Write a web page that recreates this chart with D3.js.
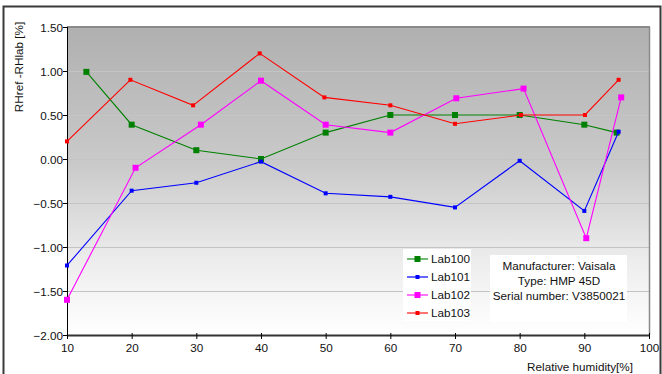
<!DOCTYPE html>
<html><head><meta charset="utf-8">
<script src="https://cdn.jsdelivr.net/npm/d3@7"></script>
<style>body{margin:0;background:#fff}svg{display:block;font-family:"Liberation Sans",Arial,sans-serif}</style>
</head><body><svg id="c" width="662" height="374"></svg>
<script>
const seriesNames = ["Lab100","Lab101","Lab102","Lab103"];
const lab100X = [13,20,30,40,50,60,70,80,90,95];
const lab100Y = [0.99,0.39,0.10,0.00,0.30,0.50,0.50,0.50,0.39,0.30];
const lab101X = [10,20,30,40,50,60,70,80,90,95.3];
const lab101Y = [-1.21,-0.36,-0.27,-0.03,-0.39,-0.43,-0.55,-0.02,-0.59,0.31];
const lab102X = [10,20.6,30.7,40,50,60,70.2,80.6,90.3,95.7];
const lab102Y = [-1.60,-0.10,0.39,0.89,0.39,0.30,0.69,0.80,-0.90,0.70];
const lab103X = [10,19.8,29.5,39.8,49.8,60,70,80.2,90.1,95.3];
const lab103Y = [0.20,0.90,0.61,1.20,0.70,0.61,0.40,0.50,0.50,0.90];
const xTicks = [10,20,30,40,50,60,70,80,90,100];
const yTicks = [1.5,1.0,0.5,0,-0.5,-1.0,-1.5,-2.0];
const infoLines = ["Manufacturer: Vaisala","Type: HMP 45D","Serial number: V3850021"];
const colors = ["#008000","#0000ff","#ff00ff","#ff0000"];
const markerSize = [6,4,6,4];
const FS = 11.7;

const svg = d3.select("#c");
const L=67,T=27,R=649,B=335;
const x = d3.scaleLinear().domain([10,100]).range([L,R]);
const y = d3.scaleLinear().domain([-2,1.5]).range([B,T]);

// outer frame
svg.append("rect").attr("x",3.5).attr("y",6.5).attr("width",657).attr("height",380)
  .attr("fill","#fff").attr("stroke","#3a3a3a").attr("stroke-width",2);

const defs = svg.append("defs");
const g = defs.append("linearGradient").attr("id","bg").attr("x1",0).attr("y1",0).attr("x2",0).attr("y2",1);
[[0,"#b0b0b0"],[0.45,"#cacaca"],[0.75,"#ececec"],[1,"#ffffff"]].forEach(s=>g.append("stop").attr("offset",s[0]).attr("stop-color",s[1]));
svg.append("rect").attr("x",L).attr("y",T).attr("width",R-L).attr("height",B-T).attr("fill","url(#bg)");

// gridlines
svg.append("g").selectAll("line").data(yTicks.filter(v=>v>-2&&v<1.5)).join("line")
  .attr("x1",L).attr("x2",R).attr("y1",d=>Math.round(y(d))+0.5).attr("y2",d=>Math.round(y(d))+0.5)
  .attr("stroke","#c4c4c4").attr("stroke-width",1);

// plot top / right border
svg.append("line").attr("x1",L).attr("x2",R+1).attr("y1",T).attr("y2",T).attr("stroke","#8a8a8a").attr("stroke-width",2);
svg.append("line").attr("x1",R+0.5).attr("x2",R+0.5).attr("y1",T).attr("y2",B).attr("stroke","#8a8a8a").attr("stroke-width",1.5);

// axes
const yAxis = svg.append("g").attr("transform",`translate(${L},0)`)
  .call(d3.axisLeft(y).tickValues(yTicks).tickFormat(d3.format(".2f")).tickSize(4).tickPadding(3));
const xAxis = svg.append("g").attr("transform",`translate(0,${B})`)
  .call(d3.axisBottom(x).tickValues(xTicks).tickFormat(d3.format("d")).tickSize(4).tickPadding(5));
[yAxis,xAxis].forEach(a=>{a.selectAll("text").attr("font-size",FS).attr("fill","#111").attr("font-family","Liberation Sans, Arial, sans-serif");
  a.selectAll("line").attr("stroke","#000");});
yAxis.select(".domain").attr("stroke","#000").attr("d",`M0.5,${T}V${B}`);
xAxis.select(".domain").attr("stroke","#333").attr("stroke-width",2).attr("d",`M${L},0.5H${R}`);
xAxis.selectAll(".tick line").attr("y1",-2);
yAxis.selectAll("text").attr("dy","0.35em").attr("x",-4);

// series
const all = [[lab100X,lab100Y],[lab101X,lab101Y],[lab102X,lab102Y],[lab103X,lab103Y]];
const line = d3.line().x(d=>x(d[0])).y(d=>y(d[1]));
all.forEach((s,i)=>{
  const pts = s[0].map((v,j)=>[v,s[1][j]]);
  svg.append("path").datum(pts).attr("d",line).attr("fill","none").attr("stroke",colors[i]).attr("stroke-width",1.1);
  const m = markerSize[i];
  svg.append("g").selectAll("rect").data(pts).join("rect")
    .attr("x",d=>x(d[0])-m/2).attr("y",d=>y(d[1])-m/2).attr("width",m).attr("height",m).attr("fill",colors[i]);
});

// legend
const lg = svg.append("g");
lg.append("rect").attr("x",403).attr("y",249).attr("width",68).attr("height",72).attr("fill","#fff");
seriesNames.forEach((n,i)=>{
  const yy = 259+i*18;
  lg.append("line").attr("x1",407).attr("x2",428).attr("y1",yy).attr("y2",yy).attr("stroke",colors[i]).attr("stroke-width",i==1?2:1.1).attr("stroke-opacity",i==1?0.6:1);
  const m = markerSize[i];
  lg.append("rect").attr("x",417.5-m/2).attr("y",yy-m/2).attr("width",m).attr("height",m).attr("fill",colors[i]);
  lg.append("text").attr("x",431).attr("y",yy).attr("dy","0.35em").attr("font-size",FS).attr("fill","#111").text(n);
});

// info box
svg.append("rect").attr("x",490).attr("y",255).attr("width",137).attr("height",67).attr("fill","#fff");
infoLines.forEach((t,i)=>svg.append("text").attr("x",559).attr("y",266+i*15).attr("dy","0.35em")
  .attr("text-anchor","middle").attr("font-size",FS).attr("fill","#111").text(t));

// axis titles
svg.append("text").attr("x",633).attr("y",367).attr("dy","0.35em").attr("text-anchor","end").attr("font-size",FS).attr("fill","#111").text("Relative humidity[%]");
svg.append("text").attr("transform","translate(19,67) rotate(-90)").attr("dy","0.35em").attr("text-anchor","middle").attr("font-size",FS).attr("fill","#111").text("RHref -RHlab [%]");
</script></body></html>
